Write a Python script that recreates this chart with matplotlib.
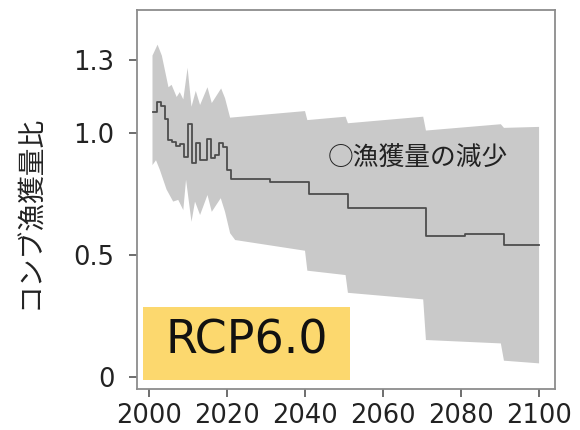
import numpy as np
import matplotlib.pyplot as plt
from matplotlib.patches import Rectangle

# median catch ratio (step, value holds until next year listed)
med_years = [2001, 2002, 2003, 2004, 2005, 2006, 2007, 2008, 2009, 2010,
             2011, 2012, 2013, 2014, 2015, 2016, 2017, 2018, 2019, 2020,
             2021, 2031, 2041, 2051, 2071, 2081, 2091, 2100]
med_vals = [1.09, 1.128, 1.114, 1.06, 0.975, 0.966, 0.95, 0.955, 0.905, 1.038,
            0.877, 0.96, 0.89, 0.89, 0.976, 0.90, 0.91, 0.96, 0.946, 0.85,
            0.812, 0.802, 0.75, 0.692, 0.58, 0.587, 0.542, 0.542]

# uncertainty band
up_years = [2000.9, 2002.2, 2003.3, 2005.0, 2005.8, 2007.1, 2007.9, 2008.8, 2009.9,
            2010.9, 2012.0, 2013.1, 2015.0, 2016.1, 2018.5, 2019.5, 2020.8, 2040.0,
            2040.6, 2050.4, 2051.0, 2070.3, 2071.0, 2090.2, 2091.0, 2100.0]
up_vals = [1.32, 1.365, 1.32, 1.19, 1.20, 1.15, 1.17, 1.14, 1.27,
           1.11, 1.175, 1.117, 1.19, 1.125, 1.185, 1.145, 1.065, 1.092,
           1.055, 1.069, 1.042, 1.069, 1.012, 1.038, 1.023, 1.027]
lo_years = [2000.9, 2001.8, 2002.8, 2004.5, 2006.2, 2007.5, 2008.8, 2009.5, 2010.9,
            2011.8, 2013.1, 2015.0, 2016.1, 2018.4, 2019.5, 2020.8, 2022.1, 2040.0,
            2040.6, 2050.4, 2051.0, 2070.3, 2071.0, 2090.2, 2091.0, 2100.0]
lo_vals = [0.87, 0.89, 0.85, 0.77, 0.72, 0.727, 0.685, 0.81, 0.637,
           0.72, 0.665, 0.747, 0.678, 0.734, 0.678, 0.59, 0.562, 0.518,
           0.436, 0.418, 0.345, 0.318, 0.151, 0.137, 0.066, 0.055]

xticks = [2000, 2020, 2040, 2060, 2080, 2100]
yticks = [0, 0.5, 1.0, 1.3]
ytick_labels = ['0', '0.5', '1.0', '1.3']

jp = ['Noto Sans CJK JP', 'DejaVu Sans']

fig = plt.figure(figsize=(5.8, 4.3), dpi=100)
ax = fig.add_axes([0.236, 0.095, 0.721, 0.882])

bx = np.r_[up_years, lo_years[::-1]]
by = np.r_[up_vals, lo_vals[::-1]]
ax.fill(bx, by, color='#c9c9c9', lw=0, zorder=1)
ax.step(med_years, med_vals, where='post', color='#4d4d4d', lw=1.3, zorder=2)

ax.set_xlim(1996.9, 2104.1)
ax.set_ylim(-0.051, 1.508)
ax.set_xticks(xticks)
ax.set_yticks(yticks)
ax.set_yticklabels(ytick_labels)
ax.tick_params(labelsize=18.5, length=6, width=1.2, color='#555555',
               labelcolor='#222222')
ax.tick_params(axis='x', pad=4)
ax.tick_params(axis='y', pad=10)
for s in ax.spines.values():
    s.set_color('#8c8c8c')
    s.set_linewidth(1.3)

# scenario label box
ax.add_patch(Rectangle((0.015, 0.024), 0.495, 0.193, transform=ax.transAxes,
                       facecolor='#fcd86e', edgecolor='none', zorder=3))
ax.text(0.262, 0.127, 'RCP6.0', transform=ax.transAxes, fontsize=33,
        ha='center', va='center', color='#111111', family='DejaVu Sans', zorder=4)

ax.text(2045.9, 0.895, '○漁獲量の減少', fontsize=18.5, family=jp,
        ha='left', va='center', color='#222222', zorder=4)

fig.text(30 / 580, 1 - 212 / 430, 'コンブ漁獲量比', rotation=90, fontsize=20,
         family=jp, ha='center', va='center', color='#222222')

fig.savefig('out.png', dpi=100)
